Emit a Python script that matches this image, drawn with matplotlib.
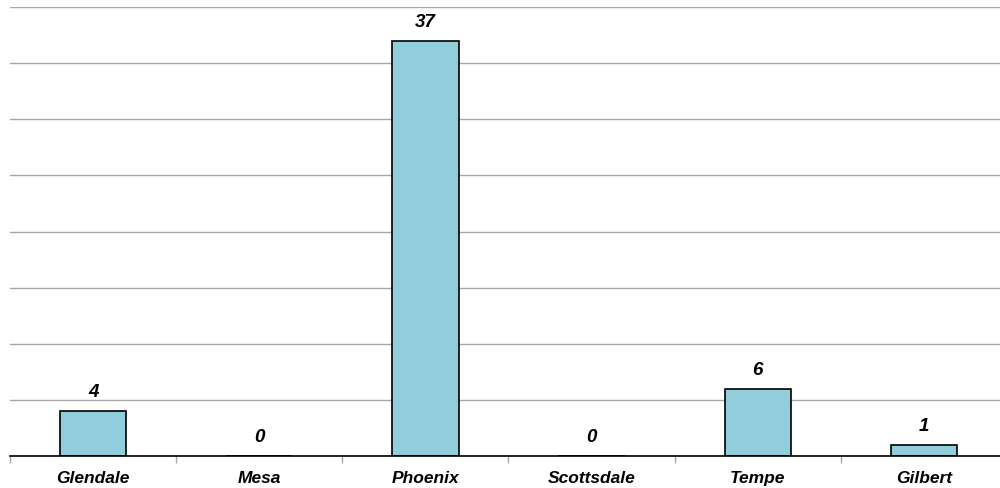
import matplotlib
matplotlib.use("Agg")
import matplotlib.pyplot as plt
import numpy as np

categories = ["Glendale", "Mesa", "Phoenix", "Scottsdale", "Tempe", "Gilbert"]
values = [4, 0, 37, 0, 6, 1]

plt.rcParams['font.family'] = ['Liberation Sans', 'DejaVu Sans']

fig = plt.figure(figsize=(10, 4.89), dpi=100)
ax = fig.add_axes([0.010, 32/489, 0.997, 449/489])

x = np.arange(len(categories))
ax.bar(x, values, width=0.4, color="#92cddc", edgecolor="black", linewidth=1.2, zorder=3)

ax.set_xlim(-0.5, len(categories) - 0.5)
ax.set_ylim(0, 40)
ax.set_yticks(np.arange(0, 41, 5))
ax.yaxis.grid(True, color="#a6a6a6", linewidth=1.0, zorder=0)
ax.tick_params(axis='y', left=False, labelleft=False)

for s in ['top', 'right', 'left']:
    ax.spines[s].set_visible(False)
ax.spines['bottom'].set_color('black')
ax.spines['bottom'].set_linewidth(1.2)
ax.spines['bottom'].set_zorder(4)

# category boundary ticks
ax.set_xticks(np.arange(-0.5, len(categories) - 0.5, 1.0), minor=False)
ax.set_xticklabels([])
ax.tick_params(axis='x', which='major', length=5, color='#a6a6a6', width=1)
ax.set_xticks(x, minor=True)
ax.set_xticklabels(categories, minor=True, fontsize=12.5, fontweight='bold', fontstyle='italic')
ax.tick_params(axis='x', which='minor', length=0, pad=10)

for xi, v in zip(x, values):
    ax.annotate(str(v), (xi, v), xytext=(0, 8), textcoords='offset points',
                ha='center', va='bottom', fontsize=13.5, fontweight='bold', fontstyle='italic')

fig.savefig("out.png", dpi=100)
